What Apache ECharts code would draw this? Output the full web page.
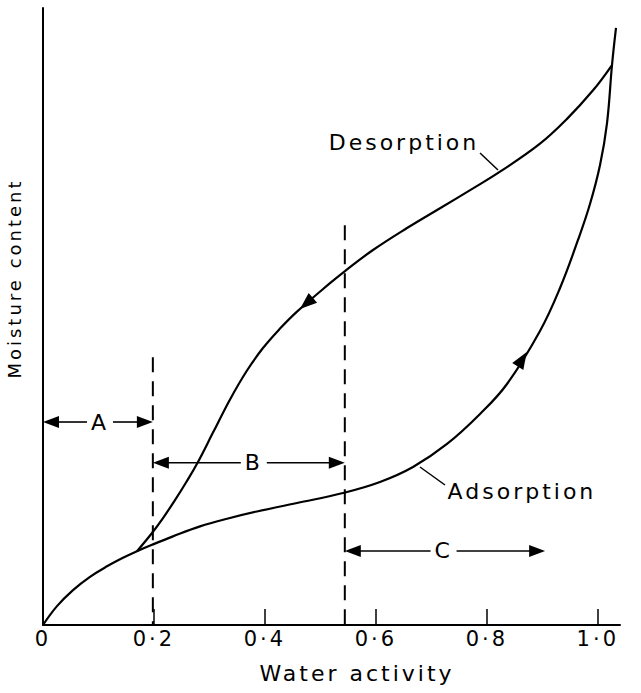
<!DOCTYPE html>
<html>
<head>
<meta charset="utf-8">
<script src="https://cdn.jsdelivr.net/npm/echarts@6/dist/echarts.min.js"></script>
<style>
  html, body { margin: 0; padding: 0; background: #fff; }
  #chart { width: 641px; height: 693px; letter-spacing: 3px; }
</style>
</head>
<body>
<div id="chart"></div>
<script>
// Sorption isotherm: moisture content (arbitrary units, 0-100) against water activity

// Adsorption branch, rising from the origin
const adsorptionAw = [0, 0.0252, 0.0541, 0.0847, 0.1154, 0.1442, 0.1694, 0.1965, 0.2343, 0.2830,
  0.3335, 0.3857, 0.4578, 0.5407, 0.6074, 0.6669, 0.7282, 0.7877, 0.8363, 0.8958,
  0.9319, 0.9643, 0.9859, 1.0040, 1.0166, 1.0256, 1.0328];
const adsorptionMoisture = [0, 3.06, 5.66, 7.81, 9.51, 10.89, 11.96, 13.00, 14.36, 15.98,
  17.26, 18.40, 19.77, 21.39, 23.18, 25.61, 29.34, 34.20, 39.06, 47.65,
  54.62, 62.40, 68.23, 74.55, 81.36, 90.76, 96.76];

// Desorption branch, from the lower junction up to the upper one
const desorptionAw = [0.1694, 0.1965, 0.2163, 0.2379, 0.2578, 0.2776, 0.3064, 0.3371, 0.3677, 0.3965,
  0.4272, 0.4578, 0.5173, 0.5443, 0.5948, 0.6561, 0.7156, 0.7751, 0.8237, 0.8958,
  0.9445, 0.9914, 1.0256];
const desorptionMoisture = [11.96, 14.91, 17.33, 20.24, 23.10, 26.13, 31.18, 36.56, 41.25, 44.89,
  48.04, 50.79, 55.40, 57.37, 60.78, 64.34, 67.55, 70.76, 73.47, 78.01,
  82.03, 86.66, 90.76];

// x-axis ticks
const tickValues = [0, 0.2, 0.4, 0.6, 0.8, 1.0];
const tickLabels = ['0', '0·2', '0·4', '0·6', '0·8', '1·0'];

// Zone boundaries (dashed verticals): water activity and height of each line
const boundaryAw = [0.198, 0.544];
const boundaryTop = [43.4, 64.8];

// Zone range arrows A, B, C
const zoneNames = ['A', 'B', 'C'];
const zoneStart = [0, 0.198, 0.544];
const zoneEnd = [0.198, 0.544, 0.905];
const zoneLevel = [32.9, 26.3, 12.0];
const zoneLabelAw = [0.1027, 0.3800, 0.7220];

// Direction arrowheads on the branches: tip point and an upstream point on the same branch
const flowTipAw = [0.4632, 0.8719];
const flowTipMoisture = [51.22, 44.24];
const flowFromAw = [0.5173, 0.8363];
const flowFromMoisture = [55.40, 39.06];

// Branch names with leader lines
const branchNames = ['Desorption', 'Adsorption'];
const branchLabelAw = [0.6507, 0.8633];
const branchLabelMoisture = [78.2, 21.6];
const leaderStartAw = [0.7877, 0.6795];
const leaderStartMoisture = [76.50, 25.61];
const leaderEndAw = [0.8201, 0.7246];
const leaderEndMoisture = [73.75, 22.69];

const FONT = 'DejaVu Sans';
const INK = '#000';

const zip = (xs, ys) => xs.map((x, i) => [x, ys[i]]);

const chart = echarts.init(document.getElementById('chart'), null, { renderer: 'svg' });

const boundarySeries = boundaryAw.map((aw, i) => ({
  type: 'line',
  data: [[aw, boundaryTop[i]], [aw, 0]],
  symbol: 'none',
  silent: true,
  lineStyle: { color: INK, width: 2, type: [15, 9] },
  z: 2
}));

chart.setOption({
  animation: false,
  backgroundColor: '#fff',
  grid: { left: 43, right: 21, top: 8, bottom: 68, outerBoundsMode: 'none' },
  xAxis: {
    type: 'value',
    min: 0,
    max: 1.04,
    name: 'Water activity',
    nameLocation: 'middle',
    nameGap: 37,
    nameTextStyle: { fontFamily: FONT, fontSize: 22, color: INK, padding: [0, 0, 0, 51] },
    axisLine: { lineStyle: { color: INK, width: 2 } },
    axisTick: { inside: true, length: 16, customValues: tickValues, lineStyle: { color: INK, width: 1.5 } },
    axisLabel: {
      customValues: tickValues,
      margin: 3,
      fontFamily: FONT,
      fontSize: 21,
      color: INK,
      formatter: v => {
        const i = tickValues.findIndex(t => Math.abs(t - v) < 1e-6);
        return i >= 0 ? tickLabels[i] : '';
      }
    },
    splitLine: { show: false }
  },
  yAxis: {
    type: 'value',
    min: 0,
    max: 100,
    name: 'Moisture content',
    nameLocation: 'middle',
    nameRotate: 90,
    nameGap: 20,
    nameTextStyle: { fontFamily: FONT, fontSize: 18, color: INK, padding: [0, 0, 0, 76] },
    axisLine: { show: true, lineStyle: { color: INK, width: 2 } },
    axisTick: { show: false },
    axisLabel: { show: false },
    splitLine: { show: false }
  },
  series: [
    {
      type: 'line',
      name: 'Adsorption',
      data: zip(adsorptionAw, adsorptionMoisture),
      smooth: 0.4,
      symbol: 'none',
      silent: true,
      lineStyle: { color: INK, width: 2.2 },
      z: 3
    },
    {
      type: 'line',
      name: 'Desorption',
      data: zip(desorptionAw, desorptionMoisture),
      smooth: 0.4,
      symbol: 'none',
      silent: true,
      lineStyle: { color: INK, width: 2.2 },
      z: 3
    },
    ...boundarySeries,
    {
      // Range arrows for zones A, B and C
      type: 'custom',
      silent: true,
      clip: false,
      z: 4,
      data: zoneNames.map((n, i) => [zoneStart[i], zoneEnd[i], zoneLevel[i], zoneLabelAw[i]]),
      encode: { x: [0, 1, 3], y: 2 },
      renderItem: (params, api) => {
        const i = params.dataIndex;
        const lvl = api.value(2);
        const p0 = api.coord([api.value(0), lvl]);
        const p1 = api.coord([api.value(1), lvl]);
        const pl = api.coord([api.value(3), lvl]);
        const L = 16, H = 6, gap = 13;
        const y = p0[1];
        const stroke = { stroke: INK, lineWidth: 1.6 };
        return {
          type: 'group',
          children: [
            { type: 'line', shape: { x1: p0[0] + L - 2, y1: y, x2: pl[0] - gap, y2: y }, style: stroke },
            { type: 'line', shape: { x1: pl[0] + gap, y1: y, x2: p1[0] - L + 2, y2: y }, style: stroke },
            { type: 'polygon', shape: { points: [[p0[0], y], [p0[0] + L, y - H], [p0[0] + L, y + H]] }, style: { fill: INK } },
            { type: 'polygon', shape: { points: [[p1[0], y], [p1[0] - L, y - H], [p1[0] - L, y + H]] }, style: { fill: INK } },
            {
              type: 'text',
              style: {
                text: zoneNames[i], x: pl[0], y: y,
                align: 'center', verticalAlign: 'middle',
                fontFamily: FONT, fontSize: 22, fill: INK
              }
            }
          ]
        };
      }
    },
    {
      // Arrowheads showing the direction along each branch
      type: 'custom',
      silent: true,
      clip: false,
      z: 5,
      data: flowTipAw.map((a, i) => [a, flowTipMoisture[i], flowFromAw[i], flowFromMoisture[i]]),
      encode: { x: [0, 2], y: [1, 3] },
      renderItem: (params, api) => {
        const tip = api.coord([api.value(0), api.value(1)]);
        const from = api.coord([api.value(2), api.value(3)]);
        const dx = tip[0] - from[0], dy = tip[1] - from[1];
        const d = Math.hypot(dx, dy);
        const ux = dx / d, uy = dy / d;
        const L = 17, H = 6.5;
        const bx = tip[0] - ux * L, by = tip[1] - uy * L;
        return {
          type: 'polygon',
          shape: { points: [[tip[0], tip[1]], [bx - uy * H, by + ux * H], [bx + uy * H, by - ux * H]] },
          style: { fill: INK }
        };
      }
    },
    {
      // Branch names with their leader lines
      type: 'custom',
      silent: true,
      clip: false,
      z: 5,
      data: branchNames.map((n, i) => [branchLabelAw[i], branchLabelMoisture[i],
        leaderStartAw[i], leaderStartMoisture[i], leaderEndAw[i], leaderEndMoisture[i]]),
      encode: { x: [0, 2, 4], y: [1, 3, 5] },
      renderItem: (params, api) => {
        const i = params.dataIndex;
        const t = api.coord([api.value(0), api.value(1)]);
        const a = api.coord([api.value(2), api.value(3)]);
        const b = api.coord([api.value(4), api.value(5)]);
        return {
          type: 'group',
          children: [
            { type: 'line', shape: { x1: a[0], y1: a[1], x2: b[0], y2: b[1] }, style: { stroke: INK, lineWidth: 1.5 } },
            {
              type: 'text',
              style: {
                text: branchNames[i], x: t[0], y: t[1],
                align: 'center', verticalAlign: 'middle',
                fontFamily: FONT, fontSize: 22, fill: INK
              }
            }
          ]
        };
      }
    }
  ]
});
</script>
</body>
</html>
